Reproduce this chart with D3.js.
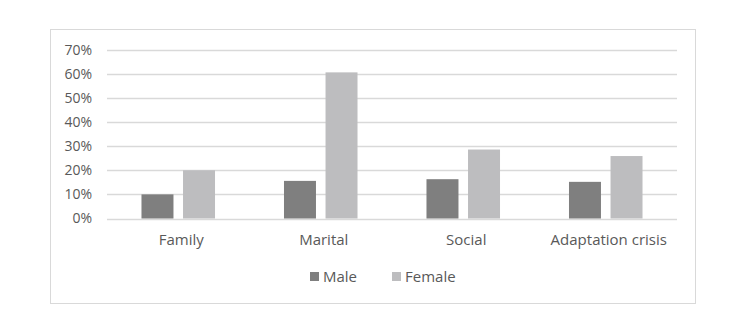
<!DOCTYPE html>
<html lang="en">
<head>
<meta charset="UTF-8">
<title>Male vs Female crisis types</title>
<script src="https://d3js.org/d3.v7.min.js"></script>
<style>
  body, html { margin: 0; padding: 0; background: #fff; }
  svg text { font-family: "Open Sans", "Noto Sans", sans-serif; fill: #595959; }
</style>
</head>
<body>
<div id="chart"></div>
<script>
const categories = ["Family", "Marital", "Social", "Adaptation crisis"];
const series = ["Male", "Female"];
const maleValues = [0.10, 0.156, 0.163, 0.152];
const femaleValues = [0.20, 0.606, 0.286, 0.259];
const yTicks = [0, 0.1, 0.2, 0.3, 0.4, 0.5, 0.6, 0.7];
const colors = { Male: "#7f7f7f", Female: "#bdbdbf" };

const W = 753, H = 317;
const svg = d3.select("#chart").append("svg")
  .attr("width", W).attr("height", H);

// outer chart frame
svg.append("rect")
  .attr("x", 50.5).attr("y", 29.5)
  .attr("width", 645).attr("height", 274)
  .attr("fill", "#fff").attr("stroke", "#d9d9d9");

const plotLeft = 107, plotRight = 677, plotTop = 49.7, plotBottom = 218.5;

const x = d3.scaleBand().domain(categories).range([plotLeft, plotRight]);
const x1 = d3.scaleBand().domain(series).range([0, x.bandwidth()])
  .paddingInner(0.23).paddingOuter(0.83);
const y = d3.scaleLinear().domain([0, 0.7]).range([plotBottom, plotTop]);

// gridlines
svg.append("g").selectAll("line").data(yTicks).join("line")
  .attr("x1", plotLeft).attr("x2", plotRight)
  .attr("y1", d => Math.round(y(d)) + 0.5).attr("y2", d => Math.round(y(d)) + 0.5)
  .attr("stroke", "#d9d9d9").attr("stroke-width", 1.3);

// y axis labels
const yAxis = svg.append("g")
  .attr("transform", `translate(${plotLeft},0)`)
  .call(d3.axisLeft(y).tickValues(yTicks).tickFormat(d3.format(".0%")).tickSize(0).tickPadding(15));
yAxis.select(".domain").remove();
yAxis.selectAll("text").style("font-size", "14px").attr("fill", "#595959");

// bars
const rows = categories.map((c, i) => ({ cat: c, Male: maleValues[i], Female: femaleValues[i] }));
const grp = svg.append("g").selectAll("g").data(rows).join("g")
  .attr("transform", d => `translate(${x(d.cat)},0)`);
grp.selectAll("rect").data(d => series.map(s => ({ s, v: d[s] }))).join("rect")
  .attr("x", d => x1(d.s))
  .attr("width", x1.bandwidth())
  .attr("y", d => y(d.v))
  .attr("height", d => y(0) - y(d.v))
  .attr("fill", d => colors[d.s]);

// x axis labels
const xAxis = svg.append("g")
  .attr("transform", `translate(0,${plotBottom})`)
  .call(d3.axisBottom(x).tickSize(0).tickPadding(16));
xAxis.select(".domain").remove();
xAxis.selectAll("text").style("font-size", "15px").attr("fill", "#595959")
  .attr("dx", "3px");

// legend
const legendX = d3.scalePoint().domain(series).range([310, 392]);
const leg = svg.append("g").selectAll("g").data(series).join("g")
  .attr("transform", d => `translate(${legendX(d)},272)`);
leg.append("rect").attr("width", 9).attr("height", 9).attr("fill", d => colors[d]);
leg.append("text").attr("x", 13).attr("y", 10)
  .style("font-size", "15px").text(d => d);
</script>
</body>
</html>
